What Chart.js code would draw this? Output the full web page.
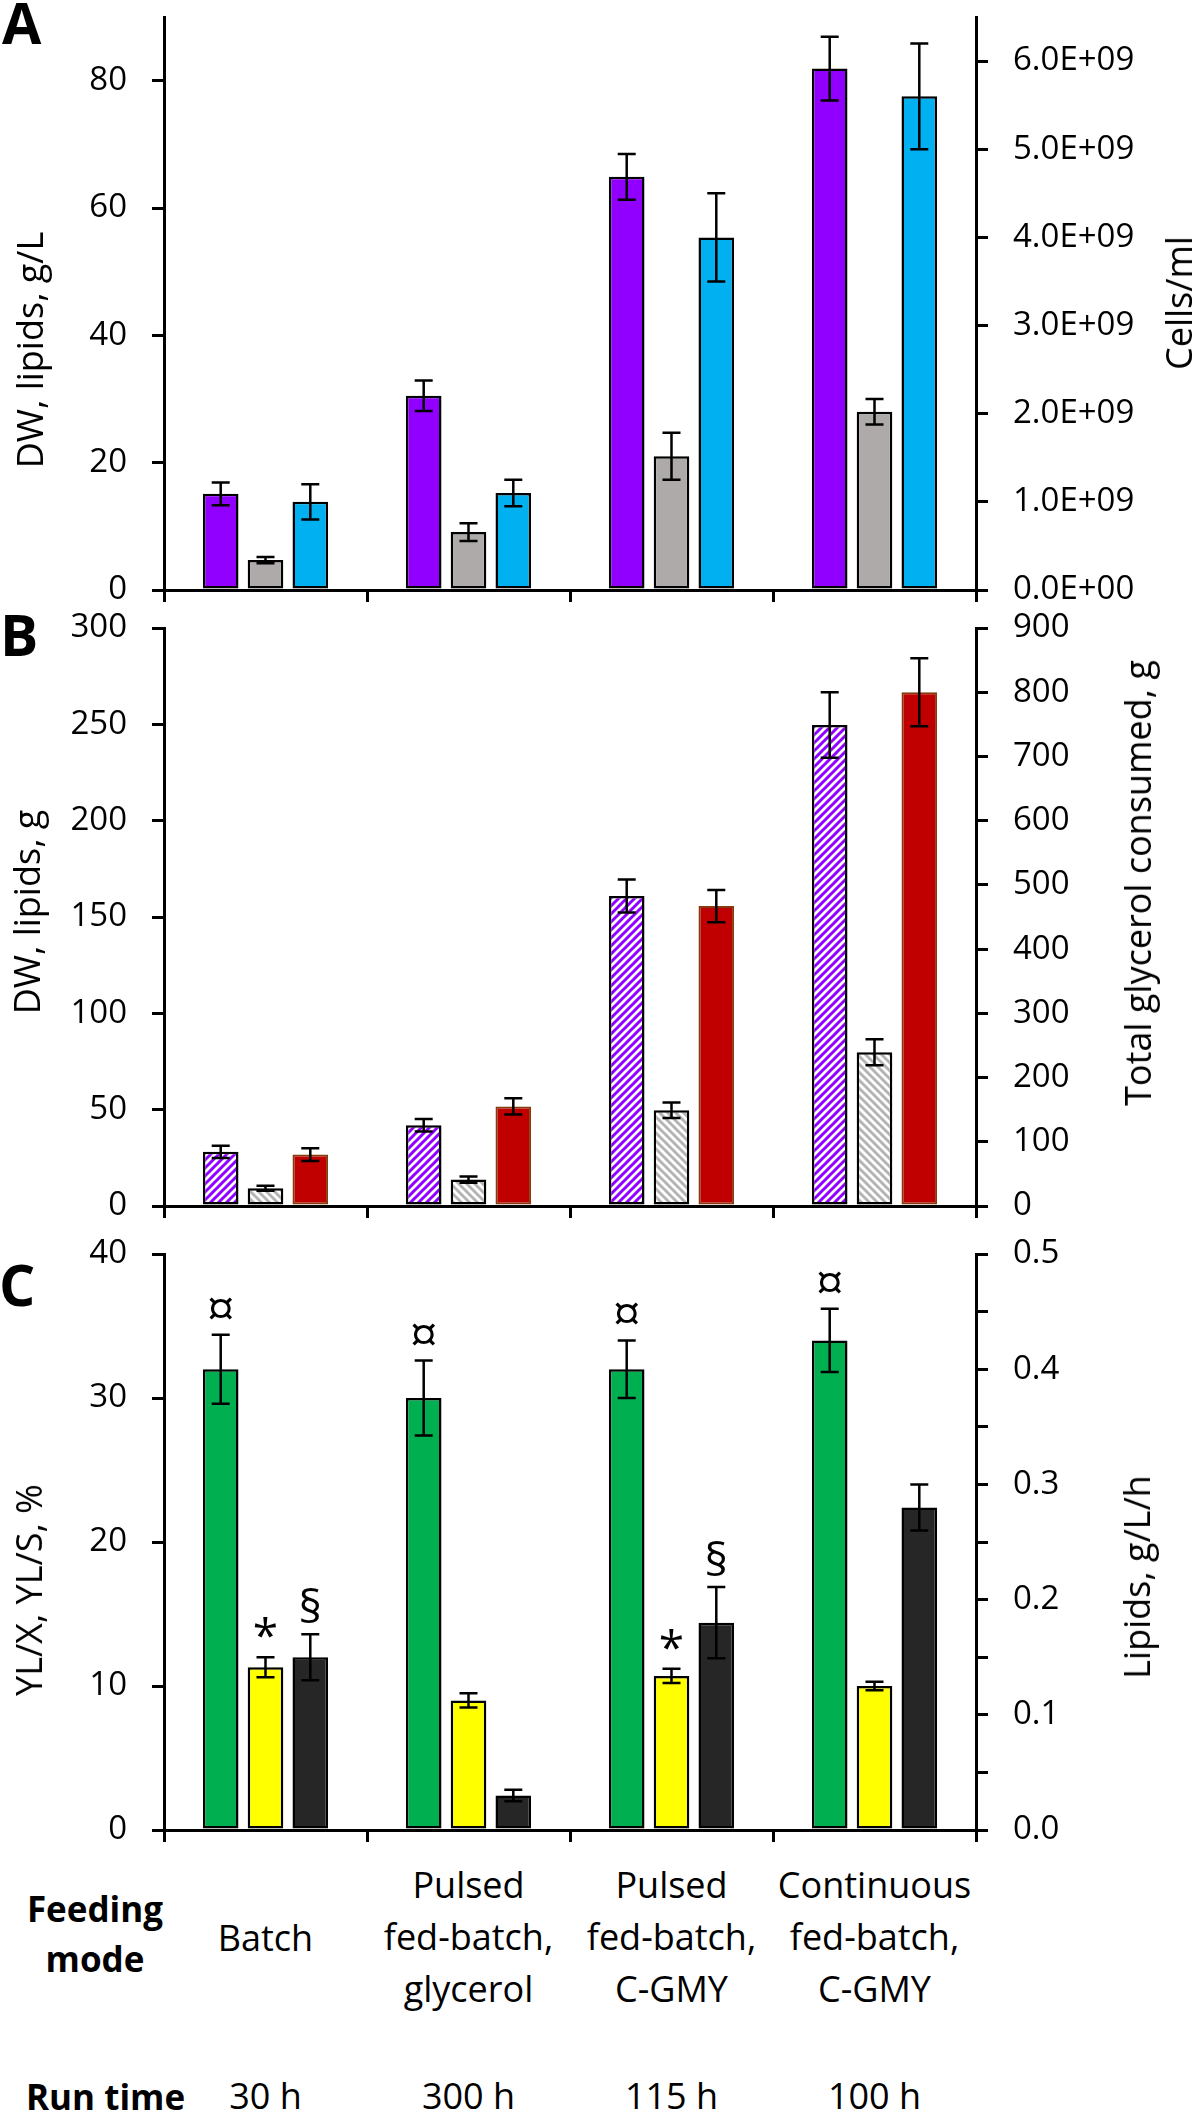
<!DOCTYPE html>
<html>
<head>
<meta charset="utf-8">
<script src="https://cdn.jsdelivr.net/npm/chart.js@4.4.0/dist/chart.umd.min.js"></script>
<style>
  body { margin: 0; background: #fff; }
  #wrap { position: relative; width: 1200px; height: 2113px; overflow: hidden; font-family: "Open Sans", sans-serif; color: #000; }
  canvas { position: absolute; left: 0; }
  .t { position: absolute; white-space: nowrap; }
  .ax { font-size: 36px; line-height: 1; transform: translate(-50%, -50%) rotate(-90deg); }
  .letter { font-size: 57px; font-weight: bold; line-height: 1; }
  .cat { font-size: 36px; line-height: 52px; text-align: center; width: 203px; }
  .head { font-size: 35px; font-weight: bold; line-height: 50px; text-align: center; }
</style>
</head>
<body>
<div id="wrap">
  <canvas id="cA" width="1200" height="605" style="top:0px"></canvas>
  <canvas id="cB" width="1200" height="617" style="top:605px"></canvas>
  <canvas id="cC" width="1200" height="628" style="top:1222px"></canvas>

  <div class="t letter" style="left:2px;top:-6px">A</div>
  <div class="t letter" style="left:0px;top:606px">B</div>
  <div class="t letter" style="left:-1px;top:1256px">C</div>

  <div class="t ax" style="left:30px;top:350px">DW, lipids, g/L</div>
  <div class="t ax" style="left:1179px;top:303px">Cells/ml</div>
  <div class="t ax" style="left:27px;top:912px">DW, lipids, g</div>
  <div class="t ax" style="left:1138px;top:883px">Total glycerol consumed, g</div>
  <div class="t ax" style="left:29px;top:1590px">YL/X, YL/S, %</div>
  <div class="t ax" style="left:1137px;top:1577px">Lipids, g/L/h</div>

  <div class="t head" style="left:25px;top:1884px;width:140px">Feeding<br>mode</div>
  <div class="t head" style="left:26px;top:2079px;line-height:35px">Run time</div>
  <div id="rows"></div>
</div>
<script>
// categories (feeding mode) and run time
var feedingModes = [['Batch'], ['Pulsed', 'fed-batch,', 'glycerol'], ['Pulsed', 'fed-batch,', 'C-GMY'], ['Continuous', 'fed-batch,', 'C-GMY']];
var runTimes = ['30 h', '300 h', '115 h', '100 h'];

// panel A
var dwConc = [15.1, 30.5, 64.9, 81.9];
var dwConcErr = [1.8, 2.4, 3.6, 5.0];
var lipConc = [4.7, 9.1, 21.0, 28.0];
var lipConcErr = [0.5, 1.4, 3.7, 2.0];
var cellsMl = [1.0e9, 1.1e9, 4.0e9, 5.6e9];
var cellsMlErr = [0.2e9, 0.15e9, 0.5e9, 0.6e9];
var cellsTicks = [0, 1e9, 2e9, 3e9, 4e9, 5e9, 6e9];

// panel B
var dwTotal = [28.1, 41.9, 160.9, 249.7];
var dwTotalErr = [3.2, 3.2, 8.5, 17];
var lipTotal = [9.2, 13.7, 49.7, 79.8];
var lipTotalErr = [1.3, 1.6, 4.0, 6.7];
var glycerol = [80, 155, 467, 800];
var glycerolErr = [10, 12.6, 25, 53];

// panel C
var yLX = [32.0, 30.0, 32.0, 34.0];
var yLXErr = [2.4, 2.6, 2.0, 2.2];
var yLS = [11.3, 9.0, 10.7, 10.0];
var yLSErr = [0.7, 0.5, 0.5, 0.3];
var lipProd = [0.15, 0.03, 0.18, 0.28];
var lipProdErr = [0.02, 0.005, 0.031, 0.02];
var yLXMarks = ['¤', '¤', '¤', '¤'];
var yLSMarks = ['*', '', '*', ''];
var lipProdMarks = ['§', '', '§', ''];

var FONT = '"Open Sans"';
Chart.defaults.font.family = FONT;
Chart.defaults.color = '#000';

// size and baseline lift of the significance marks
var markStyle = { '¤': [50, 9], '*': [46, 5], '§': [46, 11] };

// bottom text rows
var rows = document.getElementById('rows');
feedingModes.forEach(function (lines, i) {
    var d = document.createElement('div');
    d.className = 't cat';
    d.style.left = (164 + 203 * i) + 'px';
    d.style.top = (lines.length == 1 ? 1912 : 1859) + 'px';
    d.innerHTML = lines.join('<br>');
    rows.appendChild(d);
    var r = document.createElement('div');
    r.className = 't cat';
    r.style.left = (164 + 203 * i) + 'px';
    r.style.top = '2078px';
    r.style.lineHeight = '36px';
    r.textContent = runTimes[i];
    rows.appendChild(r);
});

function stripes(color, up) {
    var s = 8;
    var c = document.createElement('canvas');
    c.width = s; c.height = s;
    var g = c.getContext('2d');
    g.fillStyle = '#fff';
    g.fillRect(0, 0, s, s);
    g.strokeStyle = color;
    g.lineWidth = 3;
    g.beginPath();
    for (var k = -1; k <= 1; k++) {
        if (up) { g.moveTo(k * s - 1, s + 1); g.lineTo(k * s + s + 1, -1); }
        else { g.moveTo(k * s - 1, -1); g.lineTo(k * s + s + 1, s + 1); }
    }
    g.stroke();
    return g.createPattern(c, 'repeat');
}

var errorBars = {
    id: 'errorBars',
    afterDatasetsDraw: function (chart) {
        var ctx = chart.ctx;
        chart.data.datasets.forEach(function (ds, i) {
            var meta = chart.getDatasetMeta(i);
            var sc = chart.scales[ds.yAxisID];
            meta.data.forEach(function (bar, j) {
                var v = ds.data[j], e = ds.errors[j];
                var yTop = sc.getPixelForValue(v + e), yBot = sc.getPixelForValue(v - e);
                ctx.save();
                ctx.strokeStyle = '#000';
                ctx.lineWidth = 2.5;
                ctx.beginPath();
                ctx.moveTo(bar.x, yTop); ctx.lineTo(bar.x, yBot);
                ctx.moveTo(bar.x - 9, yTop); ctx.lineTo(bar.x + 9, yTop);
                ctx.moveTo(bar.x - 9, yBot); ctx.lineTo(bar.x + 9, yBot);
                ctx.stroke();
                var m = ds.marks && ds.marks[j];
                if (m) {
                    var st = markStyle[m];
                    ctx.fillStyle = '#000';
                    ctx.font = st[0] + 'px ' + FONT;
                    ctx.textAlign = 'center';
                    ctx.textBaseline = 'alphabetic';
                    ctx.fillText(m, bar.x, yTop - st[1]);
                }
                ctx.restore();
            });
        });
    }
};

function sci(v) {
    if (v === 0) return '0.0E+00';
    var e = Math.floor(Math.log10(v) + 1e-9);
    var m = v / Math.pow(10, e);
    return m.toFixed(1) + 'E+' + (e < 10 ? '0' + e : e);
}

function yAxis(pos, max, step, cb, fixedTicks) {
    var ax = {
        position: pos,
        min: 0,
        max: max,
        ticks: { stepSize: step, includeBounds: false, font: { size: 33 }, color: '#000', padding: 25 },
        grid: { display: true, drawOnChartArea: false, drawTicks: true, tickLength: 12, color: '#000', lineWidth: 3 },
        border: { display: true, color: '#000', width: 3 },
        afterFit: function (s) {
            s.width = pos == 'left' ? 164 : 224;
            s.paddingTop = 0; s.paddingBottom = 0;
        }
    };
    if (cb) ax.ticks.callback = cb;
    if (fixedTicks) {
        ax.afterBuildTicks = function (s) {
            s.ticks = fixedTicks.map(function (v) { return { value: v }; });
        };
    }
    return ax;
}

function bars(data, errors, fill, border, axis, marks) {
    return {
        data: data, errors: errors, marks: marks,
        backgroundColor: fill, borderColor: border, borderWidth: 2.5,
        borderSkipped: false, yAxisID: axis,
        categoryPercentage: 0.662, barPercentage: 0.795
    };
}

function panel(id, areaTop, areaBottom, datasets, left, right) {
    var cv = document.getElementById(id);
    var H = cv.height;
    return new Chart(cv, {
        type: 'bar',
        data: { labels: feedingModes.map(function (l) { return l.join(' '); }), datasets: datasets },
        options: {
            responsive: false,
            animation: false,
            devicePixelRatio: 1,
            layout: { padding: { top: areaTop, left: 0, right: 0, bottom: 0 } },
            plugins: { legend: { display: false }, tooltip: { enabled: false } },
            scales: {
                x: {
                    offset: true,
                    ticks: { display: false },
                    grid: { display: true, offset: true, drawOnChartArea: false, drawTicks: true, tickLength: 12, color: '#000', lineWidth: 3 },
                    border: { display: true, color: '#000', width: 3 },
                    afterFit: function (s) { s.height = H - areaBottom; s.paddingLeft = 0; s.paddingRight = 0; }
                },
                y: left,
                y1: right
            }
        },
        plugins: [errorBars]
    });
}

panel('cA', 17, 590, [
    bars(dwConc, dwConcErr, '#9100FF', '#000', 'y'),
    bars(lipConc, lipConcErr, '#AEAAAA', '#000', 'y'),
    bars(cellsMl, cellsMlErr, '#00B0F0', '#000', 'y1')
], yAxis('left', 90, 20), yAxis('right', 6.5e9, 1e9, sci, cellsTicks));

var redSet = bars(glycerol, glycerolErr, '#C00000', '#843C0C', 'y1');
redSet.borderWidth = 2;
panel('cB', 23, 601, [
    bars(dwTotal, dwTotalErr, stripes('#9100FF', true), '#000', 'y'),
    bars(lipTotal, lipTotalErr, stripes('#B4B4B4', false), '#000', 'y'),
    redSet
], yAxis('left', 300, 50), yAxis('right', 900, 100));

panel('cC', 32, 608, [
    bars(yLX, yLXErr, '#00B050', '#000', 'y', yLXMarks),
    bars(yLS, yLSErr, '#FFFF00', '#000', 'y', yLSMarks),
    bars(lipProd, lipProdErr, '#262626', '#000', 'y1', lipProdMarks)
], yAxis('left', 40, 10), yAxis('right', 0.5, 0.05, function (v) {
    return Math.round(v * 100) % 10 === 0 ? v.toFixed(1) : '';
}));
</script>
</body>
</html>
